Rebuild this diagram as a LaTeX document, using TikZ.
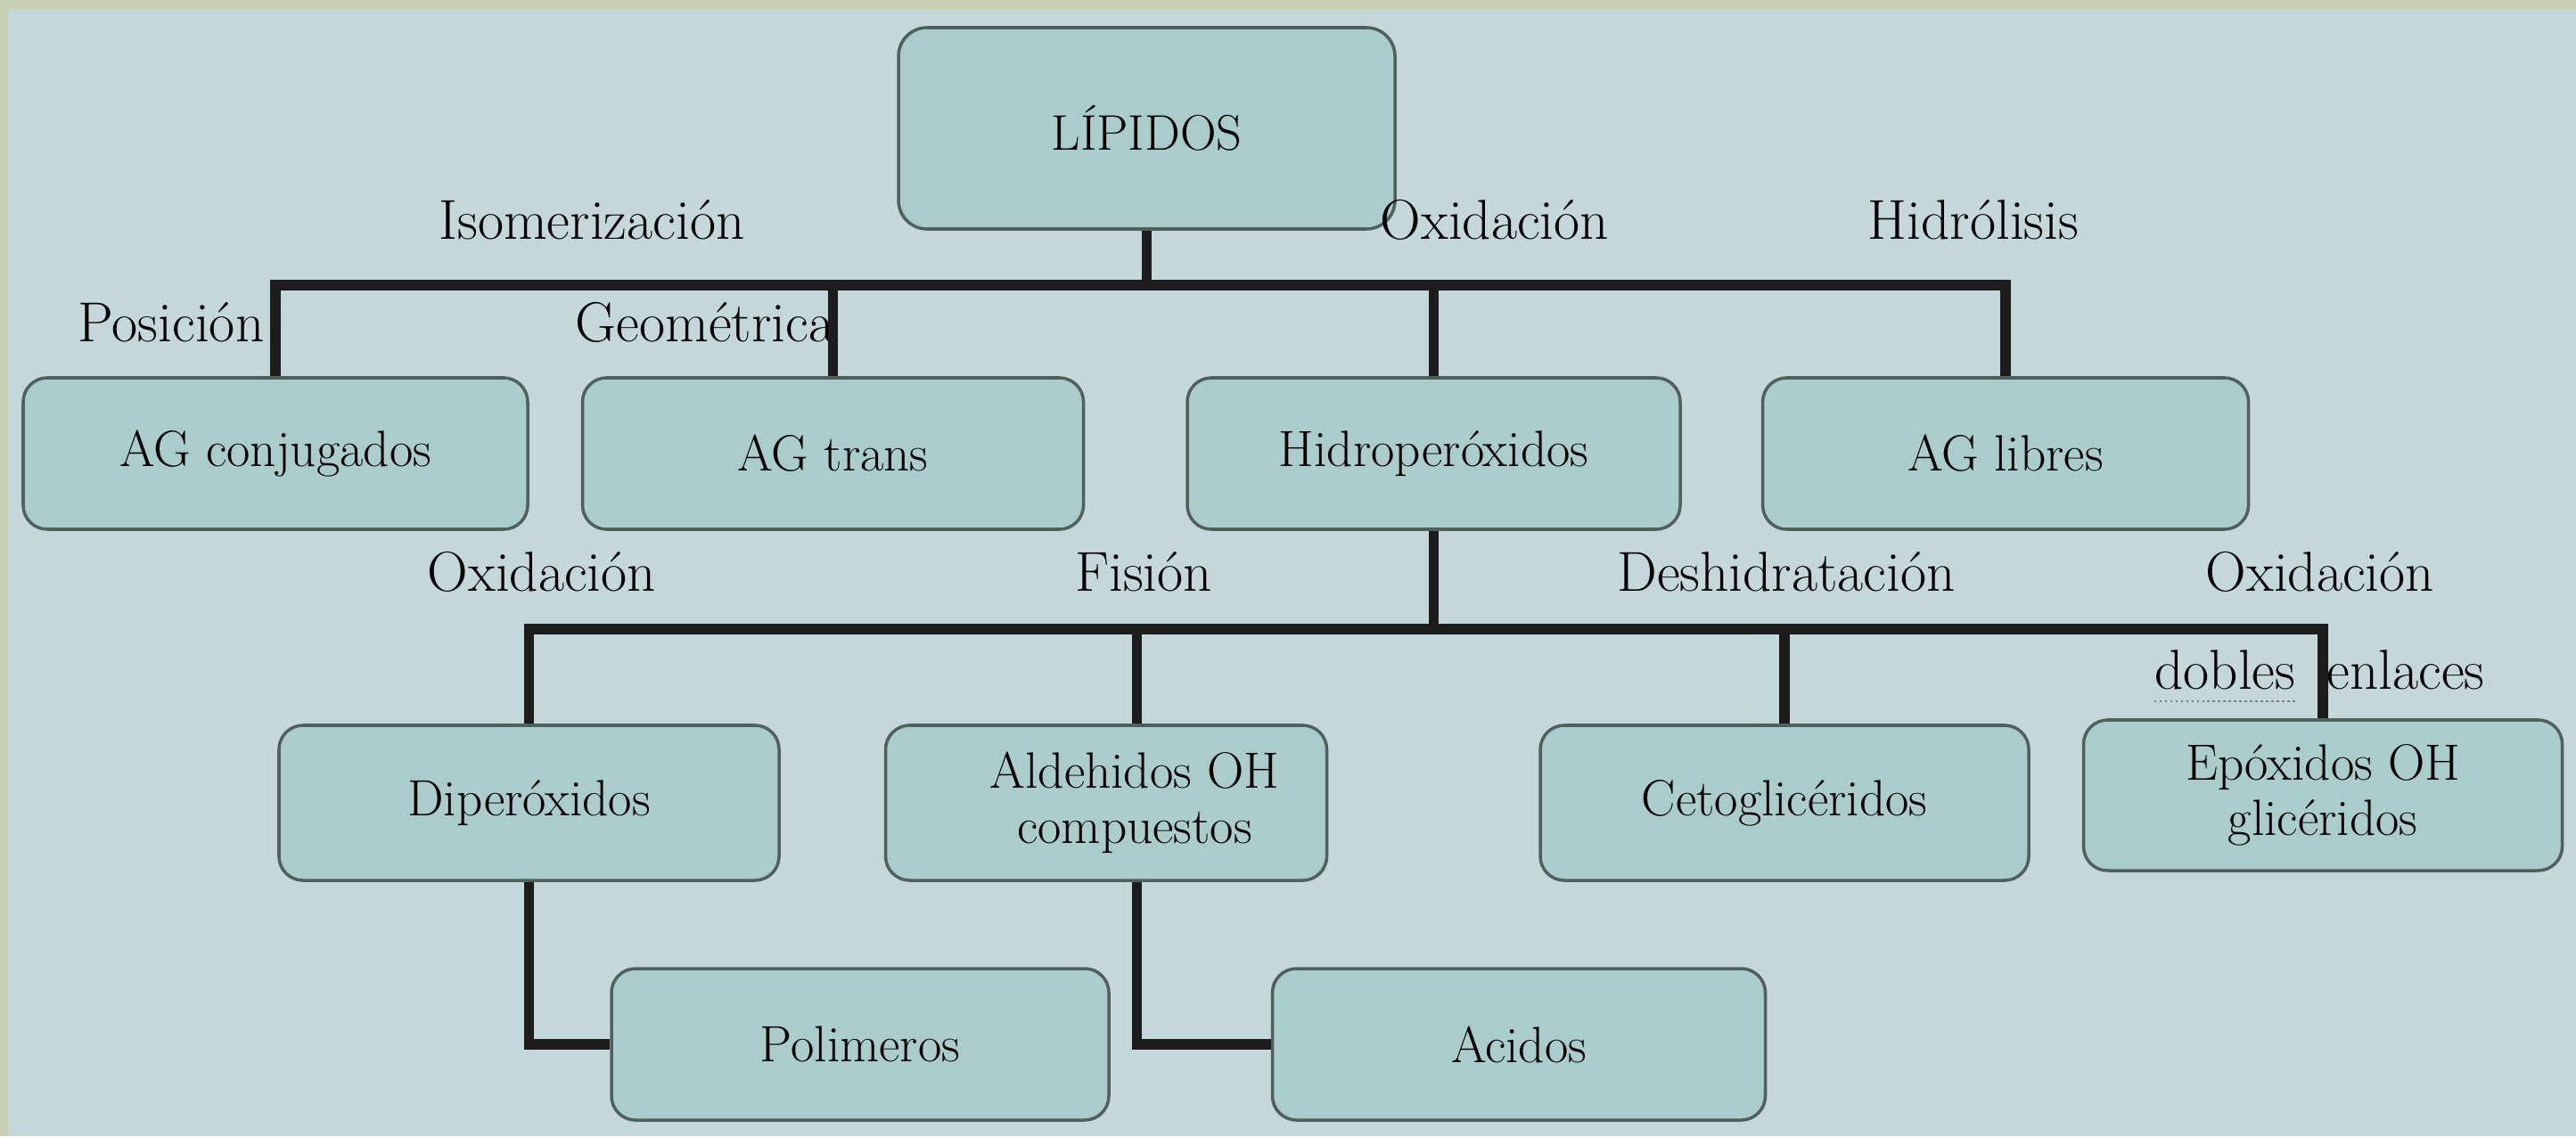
\documentclass[tikz,border=0pt]{standalone}
\usepackage{tikz}
\usetikzlibrary{positioning}
\definecolor{slidebg}{HTML}{C4D8D9}
\definecolor{slideedge}{HTML}{C8D0B2}
\definecolor{boxfill}{HTML}{AACCCA}
\definecolor{boxline}{HTML}{50605D}
\definecolor{linkcol}{HTML}{1C1C1C}

\begin{document}
\begin{tikzpicture}[node distance=1cm,
  box/.style={draw=boxline,line width=1pt,rounded corners=2.7mm,fill=boxfill,minimum height=1.74cm,align=center,font=\fontsize{16.3}{17.5}\selectfont},
  lbl/.style={anchor=base,inner sep=0pt,font=\fontsize{18}{20}\selectfont},
  link/.style={draw=linkcol,line width=3.3pt}]
\useasboundingbox (0,0) rectangle (28.9,12.75);
\fill[slidebg] (0,0) rectangle (28.9,12.75);
\fill[slideedge] (0,12.64) rectangle (28.9,12.75);
\fill[slideedge] (0,0) rectangle (0.09,12.75);

\node[box,minimum width=5.57cm,minimum height=2.26cm,rounded corners=3.2mm,font=\fontsize{16}{18}\selectfont] (lipidos) at (12.865,11.31) {LÍPIDOS};
\node[box,minimum width=5.66cm,minimum height=1.7cm] (conj) at (3.09,7.66) {AG conjugados};
\node[box,minimum width=5.62cm,minimum height=1.7cm,right=0.58cm of conj] (trans) {AG trans};
\node[box,minimum width=5.53cm,minimum height=1.7cm,right=1.13cm of trans] (hidro) {Hidroperóxidos};
\node[box,minimum width=5.45cm,minimum height=1.7cm,right=0.89cm of hidro] (libres) {AG libres};
\node[box,minimum width=5.61cm] (dipe) at (5.935,3.74) {Diperóxidos};
\node[box,minimum width=4.95cm,right=1.16cm of dipe] (alde) {\hspace*{6.4mm}Aldehidos OH\\\hspace*{6.4mm}compuestos};
\node[box,minimum width=5.48cm,right=2.36cm of alde] (ceto) {Cetoglicéridos};
\node[box,minimum width=5.37cm,minimum height=1.69cm,right=0.58cm of ceto,yshift=0.85mm] (epox) {Epóxidos OH\\glicéridos};
\node[box,minimum width=5.58cm,minimum height=1.7cm] (poli) at (9.65,1.03) {Polimeros};
\node[box,minimum width=5.53cm,minimum height=1.7cm,right=1.8cm of poli] (acidos) {Acidos};

\node[lbl] (isom) at (6.64,10.06) {Isomerización};
\node[lbl] (oxid1) at (16.77,10.06) {Oxidación};
\node[lbl] (hidrol) at (22.14,10.06) {Hidrólisis};
\node[lbl,anchor=base east] (posic) at (2.97,8.91) {Posición};
\node[lbl,anchor=base east] (geom) at (9.37,8.91) {Geométrica};
\node[lbl] (oxid2) at (6.08,6.12) {Oxidación};
\node[lbl] (fision) at (12.83,6.12) {Fisión};
\node[lbl] (deshid) at (20.04,6.12) {Deshidratación};
\node[lbl] (oxid3) at (26.03,6.12) {Oxidación};
\node[lbl,anchor=base east] (dobles) at (25.76,5.02) {dobles};
\node[lbl,anchor=base west] (enlaces) at (26.1,5.02) {enlaces};
\draw[gray,densely dotted,line width=0.7pt] ([yshift=-1.4mm]dobles.base west) -- ([yshift=-1.4mm]dobles.base east);

\coordinate (bar1) at (0,9.55);
\coordinate (bar2) at (0,5.69);
\draw[link] (lipidos.south) -- (lipidos.south |- bar1) -| (conj.north);
\draw[link] (lipidos.south) -- (lipidos.south |- bar1) -| (trans.north);
\draw[link] (lipidos.south) -- (lipidos.south |- bar1) -| (hidro.north);
\draw[link] (lipidos.south) -- (lipidos.south |- bar1) -| (libres.north);
\draw[link] (hidro.south) -- (hidro.south |- bar2) -| (dipe.north);
\draw[link] (hidro.south) -- (hidro.south |- bar2) -| ([xshift=3.45mm]alde.north);
\draw[link] (hidro.south) -- (hidro.south |- bar2) -| (ceto.north);
\draw[link] (hidro.south) -- (hidro.south |- bar2) -| (epox.north);
\draw[link] (dipe.south) |- (poli.west);
\draw[link] ([xshift=3.45mm]alde.south) |- (acidos.west);
\end{tikzpicture}
\end{document}
